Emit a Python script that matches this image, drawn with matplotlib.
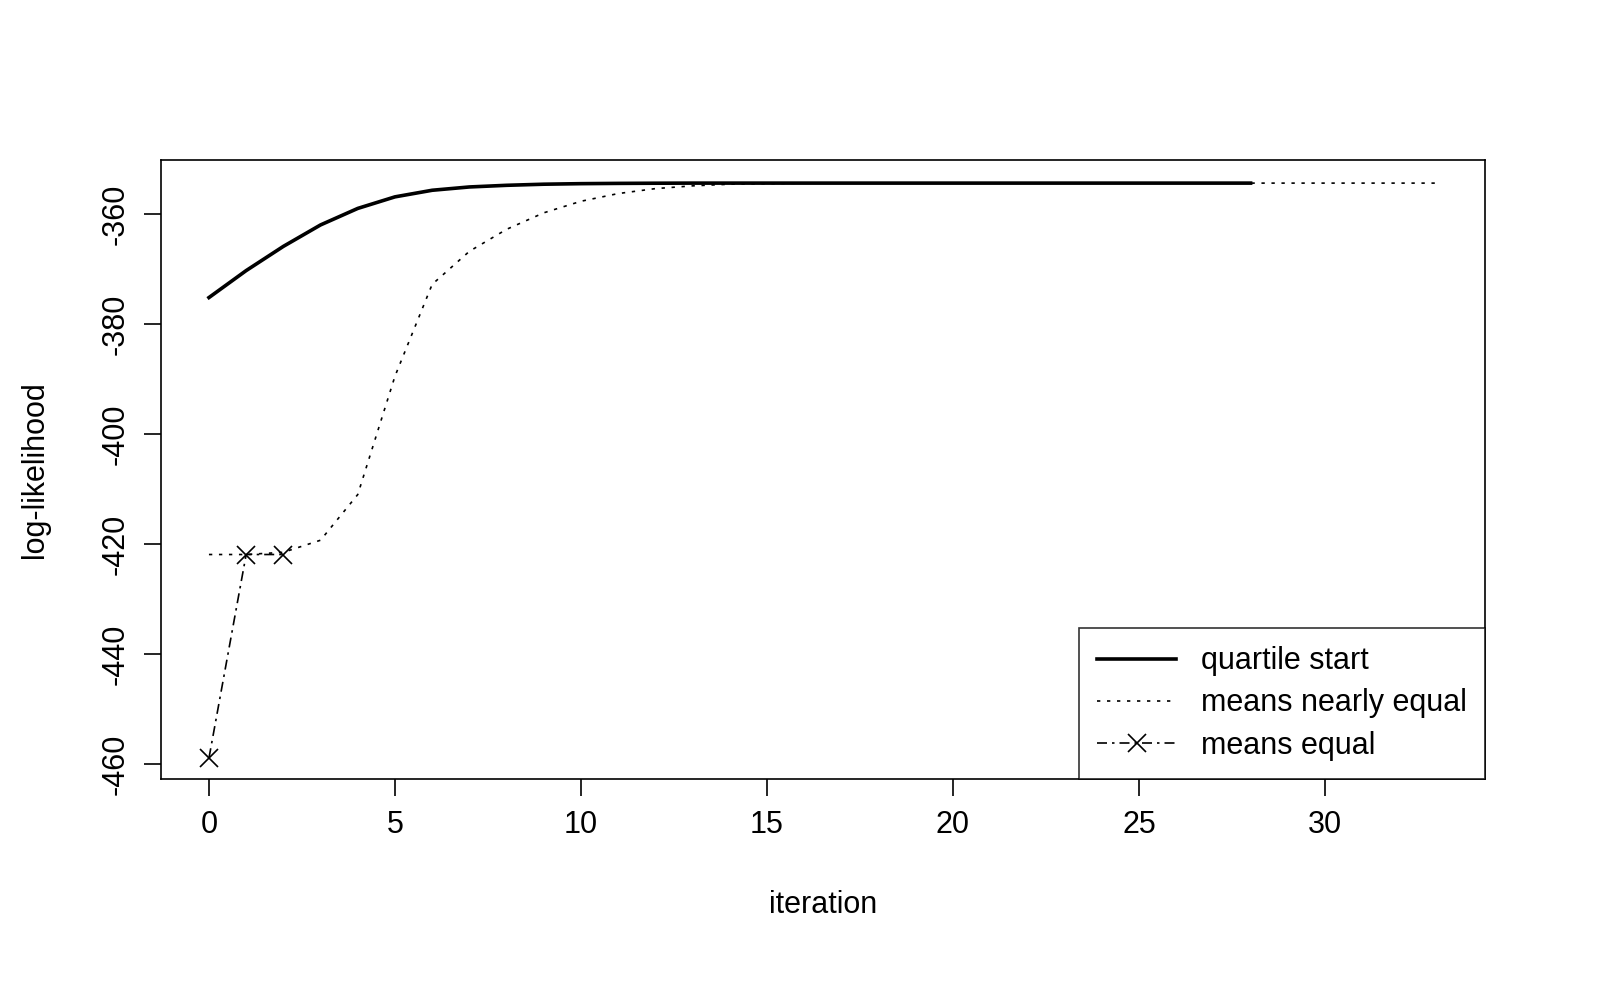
import matplotlib
matplotlib.use("Agg")
import matplotlib.pyplot as plt

plt.rcParams['font.family'] = ['Liberation Sans', 'DejaVu Sans']
plt.rcParams['axes.unicode_minus'] = False

quartile = [-375.2, -370.3, -365.9, -362.0, -359.0, -356.9, -355.7, -355.1, -354.8, -354.6,
            -354.5, -354.45, -354.42] + [-354.4] * 16
nearly = [-421.9, -421.9, -421.5, -419.3, -411.0, -389.5, -372.8, -366.8, -362.8, -359.8,
          -357.7, -356.3, -355.4, -354.9, -354.6, -354.5] + [-354.4] * 18
equal = [-458.9, -421.9, -421.9]

fig = plt.figure(figsize=(16, 10), dpi=100)
ax = fig.add_axes([0.1006, 0.221, 0.8275, 0.619])
ax.plot(range(len(quartile)), quartile, color='black', lw=2.6, ls='-', label='quartile start')
ax.plot(range(len(nearly)), nearly, color='black', lw=1.2, ls=(0, (2, 4)), label='means nearly equal')
ax.plot(range(len(equal)), equal, color='black', lw=1.2, ls=(0, (6, 3, 1.5, 3)), marker='x',
        ms=13, mew=1.2, label='means equal')
ax.set_xlim(-1.29, 34.3)
ax.set_ylim(-462.7, -350.2)
ax.set_xticks([0, 5, 10, 15, 20, 25, 30])
ax.set_yticks([-460, -440, -420, -400, -380, -360])
ax.tick_params(labelsize=22, length=12, width=1.2, pad=10)
for lab in ax.get_yticklabels():
    lab.set_rotation(90)
    lab.set_va('center')
for s in ax.spines.values():
    s.set_linewidth(1.2)
ax.set_xlabel('iteration', fontsize=22, labelpad=36)
ax.set_ylabel('log-likelihood', fontsize=22, labelpad=36)
leg = ax.legend(loc='lower right', fontsize=22, frameon=True, fancybox=False,
                edgecolor='black', borderaxespad=0, handlelength=2.6, borderpad=0.6,
                labelspacing=0.4)
leg.get_frame().set_linewidth(1.2)
fig.savefig('out.png', dpi=100, facecolor='white')
